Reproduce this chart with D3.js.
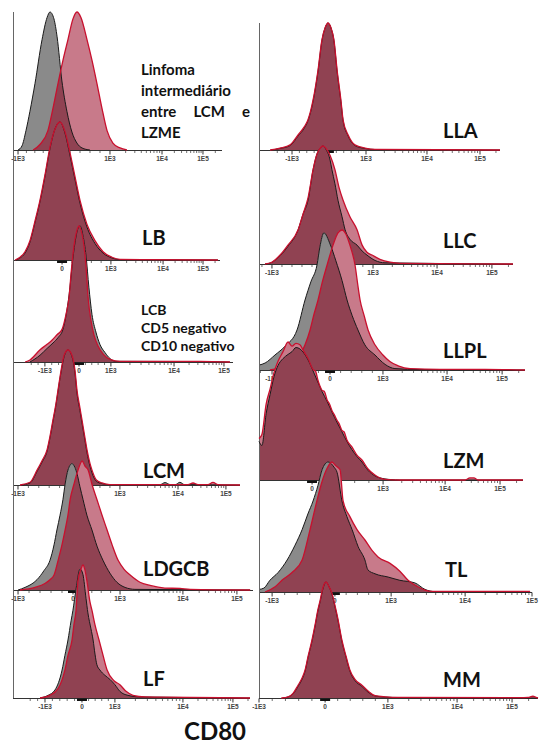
<!DOCTYPE html>
<html>
<head>
<meta charset="utf-8">
<script src="https://cdn.jsdelivr.net/npm/d3@7"></script>
<style>
body { margin: 0; background: #fff; }
svg { display: block; }
</style>
</head>
<body>
<svg id="chart" width="546" height="746"></svg>
<script>
// CD80 overlays, one histogram per lymphoma type.
// x = display channel (0-100 across each axis), y = % of max count

const tickLabels = ["-1E3", "0", "1E3", "1E4", "1E5"];
const xTitle = "CD80";

const categoryLines = [
    ["Linfoma", "intermediário", "entre LCM e", "LZME"],
    ["LB"],
    ["LCB", "CD5 negativo", "CD10 negativo"],
    ["LCM"],
    ["LDGCB"],
    ["LF"],
    ["LLA"],
    ["LLC"],
    ["LLPL"],
    ["LZM"],
    ["TL"],
    ["MM"]
];

// channel of each major tick, per panel (null = label not shown)
const ticksLZME = [2.4, 22.5, 46.4, 71.3, 90.9];
const ticksLB = [null, 23.7, 47.3, 72.5, 91.8];
const ticksLCB = [14.5, 30.0, 44.5, 73.2, 95.9];
const ticksLCM = [2.2, 25.1, 47.1, 72.7, 93.8];
const ticksLDGCB = [2.1, 25.0, 44.6, 70.8, 93.3];
const ticksLF = [13.5, 29.1, 43.0, 71.7, 92.8];
const ticksLLA = [13.7, 29.0, 44.4, 69.7, 91.7];
const ticksLLC = [5.1, 24.8, 44.9, 70.1, 91.7];
const ticksLLPL = [4.9, 26.7, 46.6, 70.7, 91.4];
const ticksLZM = [null, 20.1, 47.0, 70.5, 91.3];
const ticksTL = [4.8, 27.8, 48.4, 75.5, 100];
const ticksMM = [0, 23.7, 46.2, 71.0, 90.7];

// [channel, % of max] for the grey (control) and red (sample) histograms
const grayLZME = [[2.4,0],[4.3,3],[6.2,14],[8.1,28],[10.5,48],[13.9,80],[16.3,96],[17.7,100],[19.6,95],[21.1,82],[23.4,50],[25.8,28],[28.2,13],[30.6,5],[33.0,1.5],[36.8,0]];
const redLZME = [[9.6,0],[12.9,4],[16.7,14],[19.1,30],[21.5,48],[23.9,65],[26.3,80],[28.7,95],[30.6,100],[32.5,96],[35.4,80],[37.8,65],[40.2,48],[42.6,30],[45.0,14],[47.8,5],[51.2,1.5],[54.5,0]];

const grayLB = [[1.5,0],[3.4,1.5],[5.8,5],[8.2,13],[10.6,27],[13.0,42],[15.5,61],[17.9,81],[20.3,95],[22.7,100],[25.1,92],[27.5,76],[30.0,58],[32.4,41],[35.7,24],[39.6,12],[43.5,5],[47.8,1.5],[51.7,0.3],[66.2,0.2],[99,0]];
const redLB = [[1.0,0],[3.4,2],[5.8,6],[8.2,14],[10.6,28],[13.0,43],[15.5,62],[17.9,82],[20.3,95],[22.7,100],[25.1,93],[27.5,78],[30.0,60],[32.4,43],[35.7,26],[39.6,14],[43.5,6],[47.8,2],[51.7,0.5],[66.2,0.3],[99,0]];

const grayLCB = [[7.7,0],[12.3,5],[15.5,10],[18.2,14],[20.5,18],[22.7,24],[24.5,38],[25.9,55],[26.8,70],[28.2,88],[29.5,98],[30.5,100],[31.8,93],[33.2,78],[34.5,55],[35.9,35],[37.7,22],[39.5,13],[41.8,7],[44.1,2.5],[46.8,0.5],[85,0.3],[98.6,0]];
const redLCB = [[5.5,0],[7.7,1.5],[12.3,9],[15.5,13],[17.7,16],[20.0,20],[22.3,24],[24.1,35],[25.5,48],[26.4,65],[27.7,85],[29.1,97],[30.0,100],[30.9,97],[32.3,85],[33.2,70],[34.1,48],[35.5,30],[36.8,20],[38.6,12],[40.9,6],[44.1,2],[48.6,0.5],[85,0.5],[98.6,0]];

const grayLCM = [[3.5,0],[7.5,1.5],[10.6,10],[12.8,17],[15.0,25],[16.3,35],[17.6,47],[18.9,59],[19.8,69],[21.1,83],[22.5,95],[24.2,100],[26.0,95],[27.3,83],[28.2,68],[29.5,55],[30.4,46],[31.7,33],[32.6,24],[33.9,14],[34.8,9],[36.6,3],[39.2,1],[42.7,0.3],[64.8,0.3],[67.0,1.8],[69.2,0.3],[71.5,0.3],[73.5,2],[75.5,0.3],[100,0]];
const redLCM = [[3.1,0],[7.5,2],[10.6,11],[12.8,18],[15.0,26],[16.3,36],[17.6,48],[18.9,60],[19.8,70],[21.1,84],[22.5,96],[24.2,100],[26.0,96],[27.3,85],[28.2,70],[29.5,57],[30.4,48],[31.7,35],[32.6,26],[33.9,16],[34.8,11],[36.6,4],[39.2,1.5],[42.7,0.3],[77.1,0.3],[79.3,1.5],[81.5,0.3],[85.9,0.3],[88.1,2],[90.3,0.3],[100,0]];

const grayLDGCB = [[2.1,0],[5.0,2],[10.0,8],[12.9,15],[15.4,23],[17.1,35],[18.3,46.5],[19.6,58],[20.8,70],[21.7,82],[22.9,93],[24.6,98],[25.8,95],[26.7,90],[27.9,80],[29.2,70],[30.8,58],[32.9,46.5],[35.0,34],[37.5,23],[40.4,13],[43.3,6],[46.7,2],[50.8,0.5],[98.8,0]];
const redLDGCB = [[2.9,0],[9.2,2],[13.3,5],[15.4,8],[17.1,11.6],[18.8,23],[20.4,35],[21.7,46.5],[22.9,58],[23.8,70],[25.4,82],[27.1,93],[28.8,100],[30.0,96],[31.3,93],[32.9,82],[35.0,70],[37.1,58],[39.2,46.5],[41.3,35],[43.8,23],[46.3,16],[48.8,11.6],[52.9,6],[57.1,3.5],[63.3,1.5],[69.6,1.2],[73.8,0.5],[98.8,0]];

const grayLF = [[11.4,0],[14.8,2],[17.7,6],[20.7,21],[21.9,32],[23.2,43.6],[24.5,58],[25.3,66],[26.6,82],[28.3,97],[29.5,93],[30.8,75],[31.6,64],[32.9,52],[33.8,43.6],[34.6,33],[35.4,25],[36.7,21],[38.8,17],[40.9,14],[43.0,10],[45.1,5],[48.5,2],[53.6,0.8],[100,0]];
const redLF = [[11.4,0],[15.6,2],[19.0,7],[21.9,21],[23.2,32],[24.9,43.6],[25.7,55],[26.6,66],[27.4,88],[28.7,97],[29.5,100],[30.4,96],[31.2,88],[32.5,72],[33.3,66],[34.6,55],[36.3,43.6],[38.0,32],[39.7,21],[42.6,13],[45.1,10],[47.7,5],[50.6,2],[55.7,0.8],[62.0,0.7],[100,0]];

const grayLLA = [[5.0,0],[8.7,1.2],[12.9,3.5],[16.2,11],[18.7,17],[20.3,23],[22.4,38],[24.5,62],[26.1,86],[27.4,96],[28.6,100],[29.9,96],[31.1,86],[32.4,62],[34.0,38],[34.9,23],[37.0,11],[39.8,3.5],[44.0,1.2],[48.1,0.4],[100,0]];
const redLLA = [[4.6,0],[8.7,1.5],[12.9,4],[16.2,11.8],[18.7,18],[20.3,23.6],[22.4,39],[24.5,63],[26.1,86.6],[27.4,96],[28.6,100],[29.9,96],[31.1,86.6],[32.4,63],[34.0,39],[34.9,23.6],[37.0,11.8],[39.8,4],[44.0,1.5],[48.1,0.5],[100,0]];

const grayLLC = [[2.4,0],[5.1,1.5],[8.3,7],[11.4,15],[15.4,29],[17.3,42],[19.3,54],[21.3,80],[22.8,93],[24.4,99],[25.2,100],[26.4,97],[28.0,88],[28.7,80],[29.9,68],[31.1,54],[32.7,40],[33.9,29],[35.8,21],[38.6,16],[40.6,11],[42.5,7.6],[45.7,3],[49.6,1],[100,0]];
const redLLC = [[2.4,0],[5.1,1.5],[8.3,7.6],[11.4,16],[15.4,29],[17.3,42],[19.3,56],[21.3,80],[22.8,93],[24.4,99],[25.2,100],[26.4,98],[28.0,92],[29.9,80],[31.5,65],[33.1,54],[35.8,40],[38.6,29],[40.6,16],[42.5,10],[44.5,7.6],[47.6,4],[51.6,1.5],[55.5,0.5],[100,0]];

const grayLLPL = [[0,3.5],[2.3,5],[6.0,10.7],[9.8,17],[14.3,28.6],[17.3,50],[19.5,63],[21.8,75],[22.9,88],[24.4,98],[26.7,90],[28.9,78],[31.2,64],[33.1,50],[35.0,39],[37.2,28.6],[39.8,18],[43.6,10.7],[47.4,4],[51.1,1],[60.5,0.3],[100,0]];
const redLLPL = [[4.1,0],[9.8,3],[14.3,8],[17.3,18],[19.2,28.6],[20.7,40],[22.2,50],[23.7,62],[25.6,75],[27.8,89],[29.7,98],[31.2,100],[32.7,97],[34.2,89],[36.1,75],[37.2,60],[38.0,50],[39.5,39],[41.0,28.6],[43.6,18],[46.6,10.7],[49.2,6],[52.3,3],[56.8,1],[68.0,0.5],[85.0,0.5],[100,0]];

const grayLZM = [[0,28],[1.1,25],[2.7,48],[4.2,62],[5.7,75],[7.2,83],[9.1,88],[11.0,91],[12.5,93],[14.0,96],[15.5,95],[17.0,92],[18.6,87],[20.5,79],[22.3,71],[23.9,64],[25.8,57],[27.7,49],[29.5,42],[31.4,35],[33.3,28],[35.2,22],[37.1,17],[39.0,13],[41.3,7],[43.9,3],[47.7,0.8],[50,0.3],[53.4,0],[100,0]];
const redLZM = [[0,30],[1.1,33],[2.7,55],[4.2,66],[5.7,78],[7.2,86],[9.1,93],[11.0,100],[12.5,97],[14.0,99],[15.5,98],[17.0,93],[18.6,88],[20.5,80],[21.4,79],[22.3,72.5],[23.9,65],[24.8,64],[25.8,58],[26.7,55],[27.7,50],[28.6,47],[29.5,43.5],[30.3,41],[31.4,36],[32.2,35],[33.3,29],[35.2,24],[37.1,18],[39.0,14.5],[41.3,8],[43.9,3.6],[47.7,0.5],[53.4,0],[78.0,0],[79.9,1.5],[81.4,1.5],[83.0,0],[100,0]];

const grayTL = [[0,2],[1.8,3],[4.0,9],[7.0,15],[10.3,24.6],[13.2,36],[15.8,48],[17.9,60],[19.8,70],[21.6,82],[23.1,94],[25.3,100],[27.5,96],[28.6,92],[30.4,70],[32.2,58],[34.1,48],[36.3,35],[38.8,24.6],[39.9,17],[42.5,14],[47.3,11.5],[51.6,9],[57.1,7],[60.8,2],[64.5,0.3],[99.3,0]];
const redTL = [[2.2,0],[5.9,4],[8.4,9],[12.1,15],[15.8,24.6],[18.7,48],[21.2,70],[23.1,85],[24.9,95],[26.7,100],[28.2,97],[29.7,94],[30.8,70],[33.3,58],[35.9,48],[38.8,40],[41.4,32],[43.6,27],[48.0,22],[51.6,16],[54.6,9],[58.2,4],[60.8,1.5],[63.4,0.5],[99.3,0.5]];

const grayMM = [[8.5,0],[10.5,1],[12.2,3.5],[14.0,10],[15.4,16],[16.5,23],[17.6,35],[19.0,49],[20.1,62],[21.1,75],[21.9,83],[22.9,94],[24.0,100],[25.1,96],[26.2,89],[27.2,79],[28.3,67],[29.7,49],[31.2,35],[32.6,23],[34.4,15],[36.9,10],[39.1,5],[41.6,1.8],[45.2,0.8],[50.5,0.4],[100,0]];
const redMM = [[8,0],[10.5,1],[12.2,4],[14.0,11],[15.4,17],[16.5,24],[17.6,36],[19.0,50],[20.1,63],[21.1,76],[21.9,84],[22.9,95],[24.0,100],[25.1,96],[26.2,90],[27.2,80],[28.3,68],[29.7,50],[31.2,36],[32.6,24],[34.4,16],[36.9,11],[39.1,6],[41.6,2],[45.2,1],[50.5,0.5],[93.5,0.3],[96.4,0.5],[98.2,1.5],[99.3,0.5],[100,0]];

// ---- layout (pixels) ----
const panels = [
    { gray: grayLZME, red: redLZME, ticks: ticksLZME, x0: 13, x1: 222, base: 150, top: 12 },
    { gray: grayLB, red: redLB, ticks: ticksLB, x0: 13, x1: 220, base: 260, top: 122 },
    { gray: grayLCB, red: redLCB, ticks: ticksLCB, x0: 13, x1: 233, base: 362, top: 226 },
    { gray: grayLCM, red: redLCM, ticks: ticksLCM, x0: 13, x1: 240, base: 485, top: 350 },
    { gray: grayLDGCB, red: redLDGCB, ticks: ticksLDGCB, x0: 13, x1: 253, base: 590, top: 461 },
    { gray: grayLF, red: redLF, ticks: ticksLF, x0: 13, x1: 250, base: 698, top: 565 },
    { gray: grayLLA, red: redLLA, ticks: ticksLLA, x0: 259, x1: 500, base: 150, top: 23 },
    { gray: grayLLC, red: redLLC, ticks: ticksLLC, x0: 259, x1: 513, base: 264, top: 146 },
    { gray: grayLLPL, red: redLLPL, ticks: ticksLLPL, x0: 259, x1: 525, base: 370, top: 230 },
    { gray: grayLZM, red: redLZM, ticks: ticksLZM, x0: 259, x1: 523, base: 480, top: 342 },
    { gray: grayTL, red: redTL, ticks: ticksTL, x0: 259, x1: 532, base: 592, top: 462 },
    { gray: grayMM, red: redMM, ticks: ticksMM, x0: 259, x1: 538, base: 698, top: 582 }
];

// where each label block sits: x, first baseline, line gap, font size, weight
const labelPos = [
    { x: 141, y: 75, gap: 21, size: 15, weight: 700, justify: 109 },
    { x: 142, y: 245, size: 20, weight: 700 },
    { x: 141, y: 315, gap: 18, size: 14, weight: 700 },
    { x: 143, y: 478, size: 20, weight: 700 },
    { x: 143, y: 576, size: 20, weight: 700 },
    { x: 143, y: 686, size: 20, weight: 700 },
    { x: 443, y: 138, size: 20, weight: 700 },
    { x: 443, y: 248, size: 20, weight: 700 },
    { x: 443, y: 358, size: 20, weight: 700 },
    { x: 443, y: 468, size: 20, weight: 700 },
    { x: 445, y: 577, size: 20, weight: 700 },
    { x: 443, y: 687, size: 20, weight: 700 }
];

const grayFill = "#8a8a8a";
const redFill = "#96001e";
const redLine = "#c8102e";
const axisCol = "#333";

const svg = d3.select("#chart");
svg.append("rect").attr("width", 546).attr("height", 746).attr("fill", "#fff");

// minor tick channels from the major ones (linear near 0, log above 1E3)
function minorTicks(t, end) {
    let out = [];
    let lin = [[t[0], t[1]], [t[1], t[2]]];
    lin.forEach(([a, b]) => {
        if (a == null || b == null) return;
        for (let i = 1; i < 5; i++) out.push(a + (b - a) * i / 5);
    });
    if (t[0] != null && t[1] != null) {
        let step = (t[1] - t[0]) / 5;
        for (let i = 1; i < 3; i++) if (t[0] - step * i >= 0) out.push(t[0] - step * i);
    }
    let logs = [[t[2], t[3]], [t[3], t[4]]];
    logs.forEach(([a, b]) => {
        for (let k = 2; k < 10; k++) out.push(a + Math.log10(k) * (b - a));
    });
    let w = t[4] - t[3];
    for (let k = 2; k < 10; k++) {
        let v = t[4] + Math.log10(k) * w;
        if (v <= end) out.push(v);
    }
    return out;
}

panels.forEach((p, i) => {
    const x = d3.scaleLinear().domain([0, 100]).range([p.x0, p.x1]);
    const y = d3.scaleLinear().domain([0, 100]).range([p.base, p.top]);
    const area = d3.area().curve(d3.curveMonotoneX)
        .x(d => x(d[0])).y0(p.base).y1(d => y(d[1]));
    const line = d3.line().curve(d3.curveMonotoneX)
        .x(d => x(d[0])).y(d => y(d[1]));

    const g = svg.append("g");

    // white underlay so the panel hides whatever sits behind it
    g.append("path").attr("d", area(p.red)).attr("fill", "#fff");
    g.append("path").attr("d", area(p.gray)).attr("fill", "#fff");

    g.append("path").attr("d", area(p.gray)).attr("fill", grayFill);
    g.append("path").attr("d", area(p.red)).attr("fill", redFill).attr("fill-opacity", 0.52);

    // y axis
    g.append("line")
        .attr("x1", p.x0 + 0.5).attr("x2", p.x0 + 0.5)
        .attr("y1", p.top).attr("y2", p.base)
        .attr("stroke", "#666").attr("stroke-width", 1);

    // x axis
    const ax = g.append("g").attr("transform", `translate(0,${p.base})`);
    ax.append("line").attr("x1", p.x0).attr("x2", p.x1).attr("y1", 0.5).attr("y2", 0.5)
        .attr("stroke", axisCol).attr("stroke-width", 1);
    ax.selectAll(".minor").data(minorTicks(p.ticks, 100)).enter().append("line")
        .attr("class", "minor")
        .attr("x1", d => x(d)).attr("x2", d => x(d))
        .attr("y1", 0.5).attr("y2", 3)
        .attr("stroke", axisCol).attr("stroke-width", 0.7);
    const major = p.ticks.map((v, j) => ({ v: v, label: tickLabels[j] })).filter(d => d.v != null);
    ax.selectAll(".major").data(major).enter().append("line")
        .attr("class", "major")
        .attr("x1", d => x(d.v)).attr("x2", d => x(d.v))
        .attr("y1", 0.5).attr("y2", 4.5)
        .attr("stroke", axisCol).attr("stroke-width", 1);
    ax.selectAll("text").data(major).enter().append("text")
        .attr("x", d => x(d.v)).attr("y", 10.5)
        .attr("text-anchor", "middle")
        .attr("font-family", "'Liberation Sans', Arial, sans-serif")
        .attr("font-size", 6.5).attr("font-weight", 700)
        .attr("fill", "#444")
        .text(d => d.label);
    // dense block of ticks around zero
    if (p.ticks[1] != null) {
        ax.append("rect")
            .attr("x", x(p.ticks[1]) - 5).attr("y", 0.5)
            .attr("width", 10).attr("height", 2.5)
            .attr("fill", "#111");
    }

    g.append("path").attr("d", line(p.gray)).attr("fill", "none")
        .attr("stroke", "#1a1a1a").attr("stroke-width", 1);
    g.append("path").attr("d", line(p.red)).attr("fill", "none")
        .attr("stroke", redLine).attr("stroke-width", 1.3);
});

// category labels drawn last so curves never hide them
categoryLines.forEach((lines, i) => {
    const lp = labelPos[i];
    lines.forEach((t, j) => {
        const txt = svg.append("text")
            .attr("x", lp.x).attr("y", lp.y + j * (lp.gap || 0))
            .attr("font-family", "Lato, 'Open Sans', sans-serif")
            .attr("font-size", lp.size).attr("font-weight", lp.weight)
            .attr("fill", "#111")
            .text(t);
        // "entre LCM e" is justified to the block width in the original
        if (lp.justify && t.split(" ").length > 1) {
            const w = txt.node().getComputedTextLength();
            const gaps = t.split(" ").length - 1;
            txt.attr("word-spacing", (lp.justify - w) / gaps);
        }
    });
});

svg.append("text")
    .attr("x", 215).attr("y", 740)
    .attr("text-anchor", "middle")
    .attr("font-family", "Lato, 'Open Sans', sans-serif")
    .attr("font-size", 24).attr("font-weight", 700)
    .attr("fill", "#111")
    .text(xTitle);
</script>
</body>
</html>
